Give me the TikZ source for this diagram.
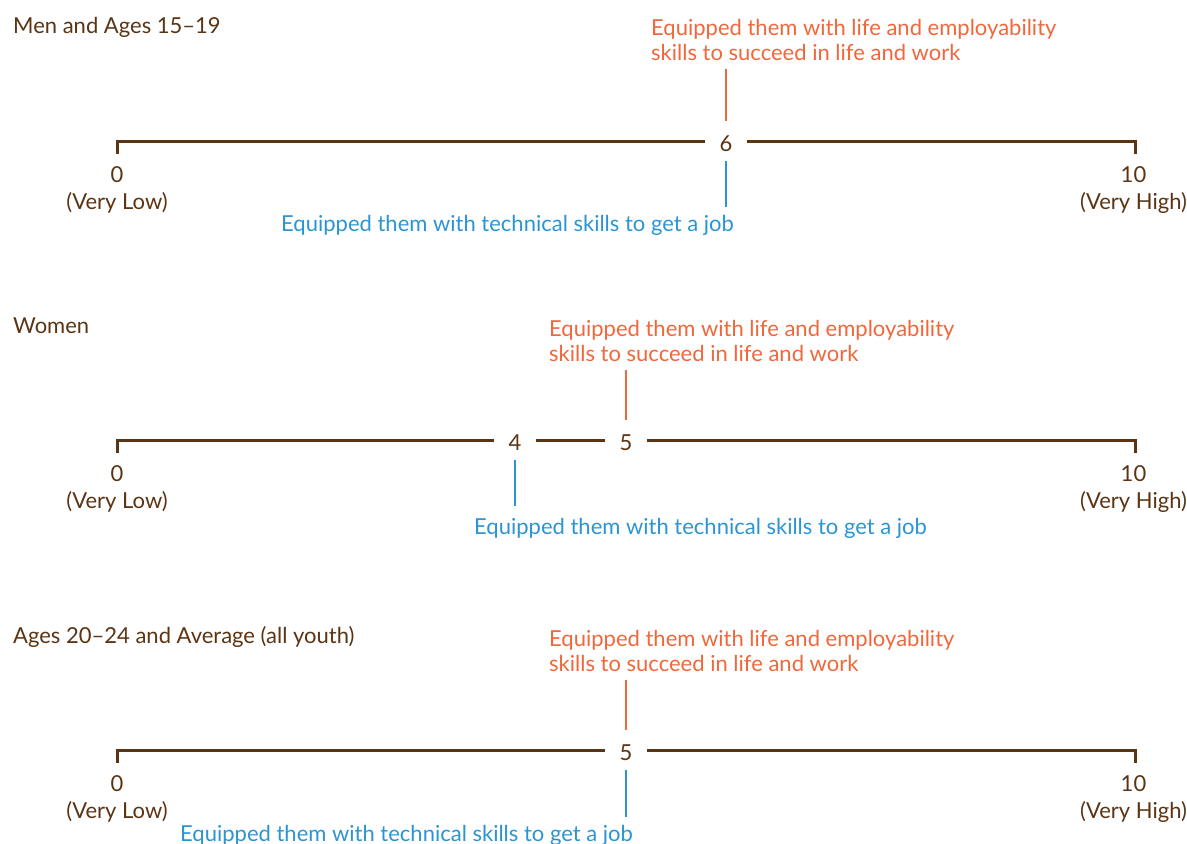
\documentclass[tikz,border=0pt]{standalone}
\usepackage{fontspec}
\setmainfont{Lato}
\usetikzlibrary{positioning}
\definecolor{axisbrown}{HTML}{5B3413}
\definecolor{lifeorange}{HTML}{F2673A}
\definecolor{techblue}{HTML}{2B95D3}

\begin{document}
\begin{tikzpicture}[
  x=1pt, y=-1pt,
  font=\fontsize{22}{25.5}\selectfont,
  axis/.style={draw=axisbrown, line width=3pt},
  title/.style={text=axisbrown, anchor=base west, inner sep=0pt},
  endlab/.style={text=axisbrown, align=center, anchor=north, inner sep=2pt,
                 font=\fontsize{22}{27}\selectfont},
  score/.style={text=axisbrown, fill=white, minimum width=42pt, minimum height=40pt,
                inner sep=0pt, text height=20pt, text depth=0pt},
  lifelab/.style={text=lifeorange, align=left, anchor=south west, inner sep=0pt},
  techlab/.style={text=techblue, anchor=base west, inner sep=0pt},
  lifeln/.style={draw=lifeorange, line width=2pt, shorten >=8pt},
  techln/.style={draw=techblue, line width=2pt, shorten >=7.5pt}
]
\useasboundingbox (0,0) rectangle (1187,844);
% ----- three rating axes -----
\foreach \n/\y in {A/141, B/440, C/750}{
  \coordinate (lo\n) at (117,\y);
  \coordinate (hi\n) at (1135,\y);
  \draw[axis] ([yshift=-13pt]lo\n) -- (lo\n) -- (hi\n) -- ([yshift=-13pt]hi\n);
  \node[endlab] (zero\n) at ([yshift=-23pt]lo\n) {0\\(Very Low)};
  \node[endlab] (ten\n) at ([yshift=-23pt, xshift=-1.5pt]hi\n) {10\\(Very High)};
}
% ----- men and ages 15-19 -----
\node[title] (menA) at (13,33) {Men and Ages 15--19};
\node[score] (six) at (726,141) {6};
\node[lifelab] (lifeA) at (651,61) {Equipped them with life and employability\\skills to succeed in life and work};
\node[techlab] (techA) at (281,231) {Equipped them with technical skills to get a job};
\draw[lifeln] (six.north) -- (six.north |- lifeA.south);
\draw[techln] (six.south) -- (six.south |- techA.north);
% ----- women -----
\node[title] (womenB) at (13,333) {Women};
\node[score] (four) at (515,440) {4};
\node[score] (fiveB) at (626,440) {5};
\node[lifelab] (lifeB) at (549,362) {Equipped them with life and employability\\skills to succeed in life and work};
\node[techlab] (techB) at (474,534) {Equipped them with technical skills to get a job};
\draw[lifeln] (fiveB.north) -- (fiveB.north |- lifeB.south);
\draw[techln, shorten >=11.5pt] (four.south) -- (four.south |- techB.north);
% ----- ages 20-24 and average -----
\node[title] (ageC) at (13,643) {Ages 20--24 and Average (all youth)};
\node[score] (fiveC) at (626,750) {5};
\node[lifelab] (lifeC) at (549,672) {Equipped them with life and employability\\skills to succeed in life and work};
\node[techlab] (techC) at (180,841) {Equipped them with technical skills to get a job};
\draw[lifeln] (fiveC.north) -- (fiveC.north |- lifeC.south);
\draw[techln] (fiveC.south) -- (fiveC.south |- techC.north);
\end{tikzpicture}
\end{document}
